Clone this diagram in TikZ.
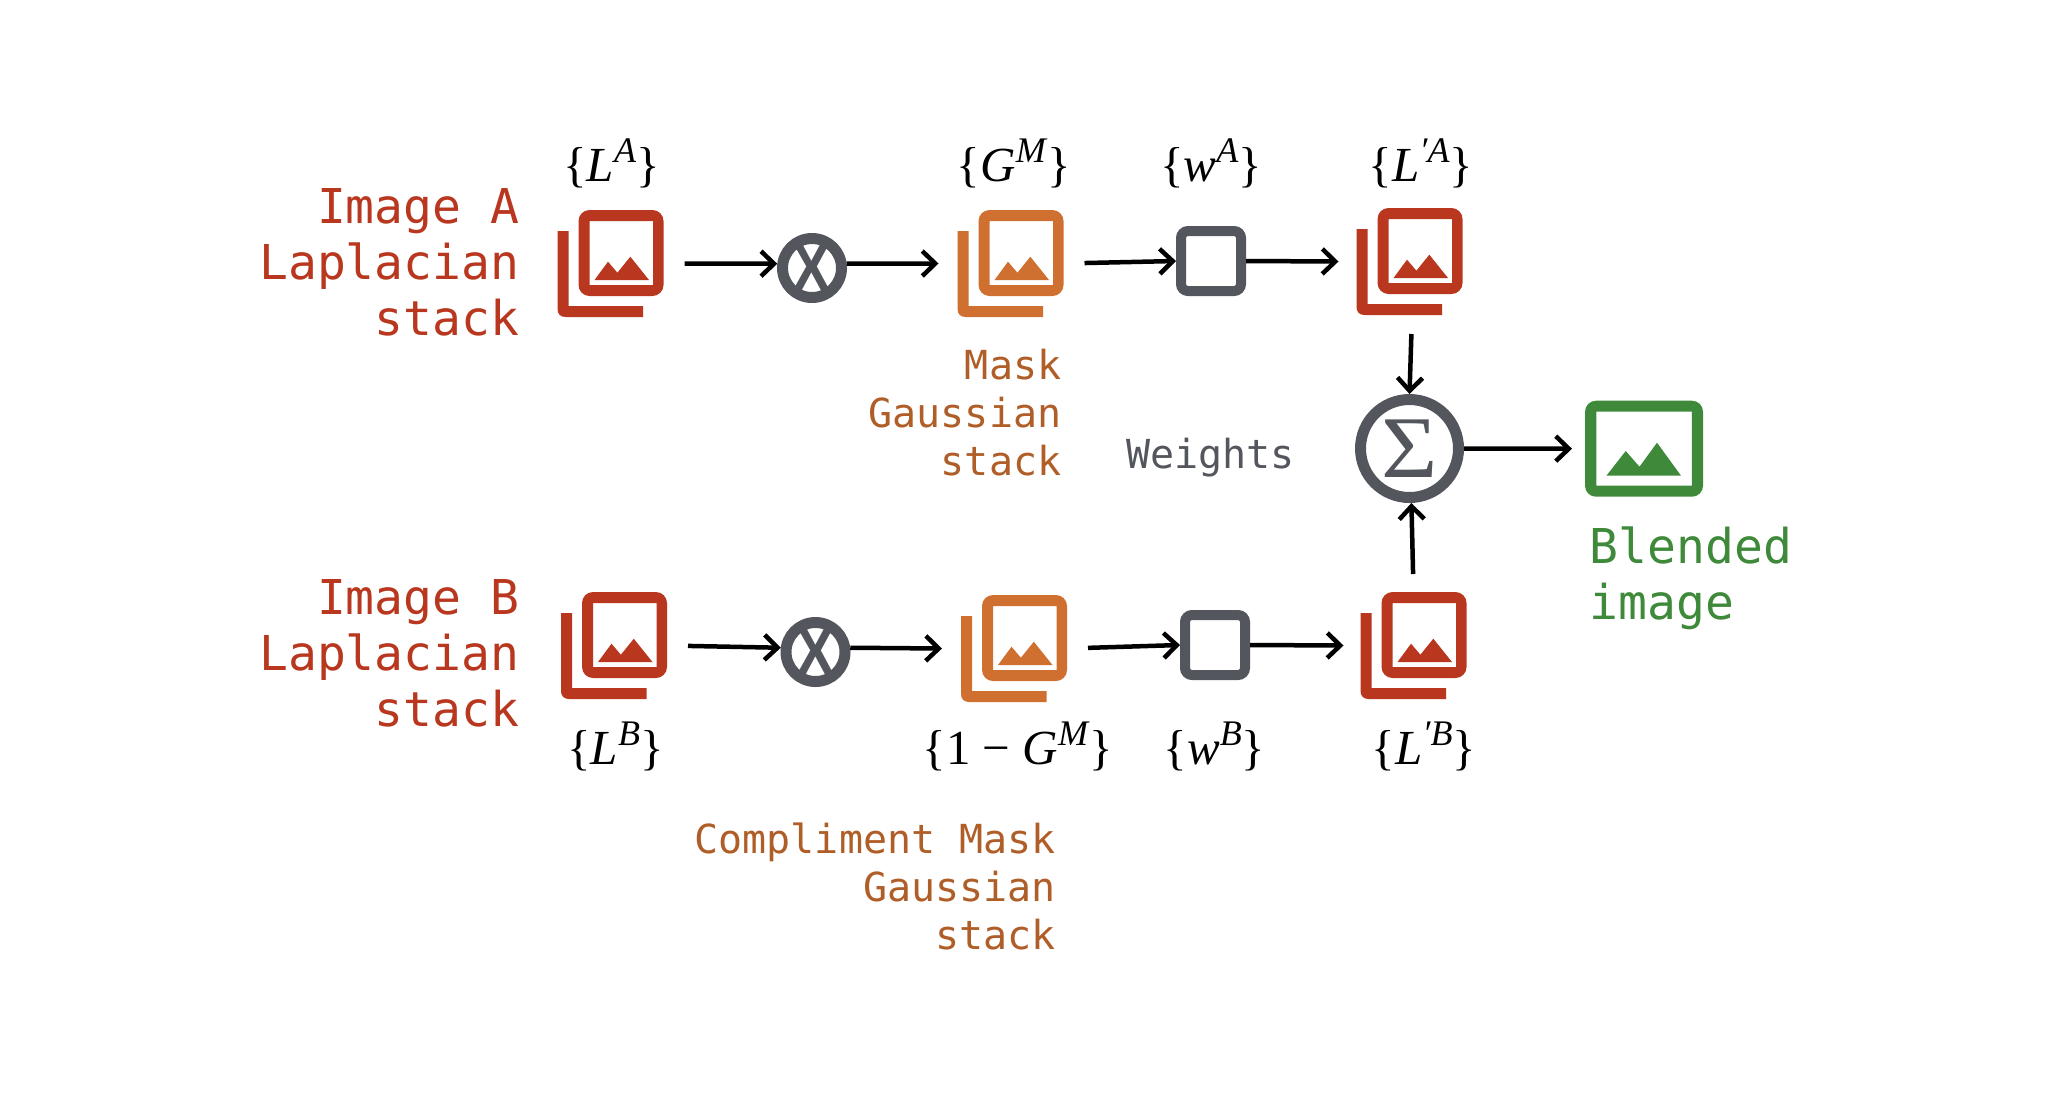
\documentclass[tikz,border=0pt]{standalone}
\usepackage{fontspec}
\setmainfont{Liberation Serif}
\setmonofont{DejaVu Sans Mono}
\newfontfamily\marksans{Liberation Sans}
\usetikzlibrary{arrows.meta}

\definecolor{stackred}{HTML}{B8371E}
\definecolor{stackorange}{HTML}{D07030}
\definecolor{opgray}{HTML}{53565D}
\definecolor{blendgreen}{HTML}{3E8A3A}
\definecolor{masktext}{HTML}{B05E28}

\newcommand{\stacklab}[2]{\{\textit{#1}\raisebox{19pt}{\fontsize{36}{36}\selectfont\textit{#2}}\}}

\tikzset{
  stackicon/.style={rectangle,inner sep=0pt,outer sep=0pt,minimum width=106pt,minimum height=107pt,
    path picture={
      \fill [#1] (-53,-32.5) -- (-42,-32.5) -- (-42,42.5) -- (32.5,42.5) -- (32.5,53.5) -- (-45,53.5) .. controls (-50,53.5) and (-53,50.5) .. (-53,45.5) -- cycle;
      \fill [#1,even odd rule,rounded corners=11pt] (-32,-53.5) rectangle (53,32.5) [sharp corners] (-21,-42.5) rectangle (42.5,21.5);
      \fill [#1] (-16,16.5) -- (-2.5,-1.8) -- (6.9,9.2) -- (19.8,-6.8) -- (38.5,16.5) -- cycle;
    }},
  imageicon/.style={rectangle,inner sep=0pt,outer sep=0pt,minimum width=118pt,minimum height=96pt,
    path picture={
      \fill [#1,even odd rule,rounded corners=11pt] (-59,-48) rectangle (59,48) [sharp corners] (-47.7,-37) rectangle (47.9,37);
      \fill [#1] (-37.6,27) -- (-18.3,2.3) -- (-4.5,18) -- (13,-6) -- (37,27) -- cycle;
    }},
  mulop/.style={circle,draw=opgray,line width=11pt,minimum size=59pt,inner sep=0pt,text=opgray,
    font=\fontsize{68}{68}\selectfont\marksans\bfseries},
  sumop/.style={circle,draw=opgray,line width=11pt,minimum size=98pt,inner sep=0pt,text=opgray,
    font=\fontsize{88}{88}\selectfont},
  weightop/.style={rectangle,draw=opgray,line width=10pt,rounded corners=7pt,minimum size=60pt,inner sep=0pt},
  flow/.style={black,line width=4.5pt,-{Straight Barb[length=13pt,width=25pt,line width=4.5pt]}},
  symlab/.style={anchor=base,inner sep=0pt,black,font=\fontsize{49}{49}\selectfont},
  bigcap/.style={inner sep=0pt,align=right,font=\fontsize{48}{56}\selectfont\ttfamily},
  smallcap/.style={inner sep=0pt,align=right,font=\fontsize{40}{48}\selectfont\ttfamily}
}
\newcommand{\mulmark}{\makebox[0pt]{\raisebox{-.34em}[0pt][0pt]{\scalebox{.85}[1]{X}}}}

\begin{document}
\begin{tikzpicture}[x=1pt,y=-1pt]
\useasboundingbox (0,0) rectangle (2052,1104);

\node [stackicon=stackred] (stackLA) at (610.5,263.5) {};
\node [stackicon=stackorange] (stackGM) at (1010.5,263.5) {};
\node [stackicon=stackred] (stackLAp) at (1409.5,261.5) {};
\node [stackicon=stackred] (stackLB) at (614,645.5) {};
\node [stackicon=stackorange] (stackGC) at (1014,648.5) {};
\node [stackicon=stackred] (stackLBp) at (1413.5,645.5) {};
\node [imageicon=blendgreen] (blended) at (1644,448.7) {};

\node [mulop] (mulA) at (812,268) {\mulmark};
\node [mulop] (mulB) at (815.5,652) {\mulmark};
\node [weightop] (wA) at (1211,261) {};
\node [weightop] (wB) at (1215,645) {};
\node [sumop] (sum) at (1409.5,448.5) {\scalebox{1.1}[1]{Σ}};

\node [symlab] (labLA) at (611.6,181) {\stacklab{L}{A}};
\node [symlab] (labGM) at (1014,181) {\stacklab{G}{M}};
\node [symlab] (labwA) at (1211,181) {\stacklab{w}{A}};
\node [symlab] (labLAp) at (1421,181) {\stacklab{L}{′A}};
\node [symlab] (labLB) at (615.5,764) {\stacklab{L}{B}};
\node [symlab] (labGC) at (1018,764) {\{1 − \textit{G}\raisebox{19pt}{\fontsize{36}{36}\selectfont\textit{M}}\}};
\node [symlab] (labwB) at (1214.6,764) {\stacklab{w}{B}};
\node [symlab] (labLBp) at (1424,764) {\stacklab{L}{′B}};

\node [bigcap,text=stackred,anchor=east] (capA) at (519.5,262.3) {Image A\\Laplacian\\stack};
\node [bigcap,text=stackred,anchor=east] (capB) at (519.5,653.3) {Image B\\Laplacian\\stack};
\node [smallcap,text=masktext,anchor=east] (capGM) at (1061.5,413) {Mask\\Gaussian\\stack};
\node [smallcap,text=masktext,anchor=east] (capGC) at (1056,886.5) {Compliment Mask\\Gaussian\\stack};
\node [smallcap,text=opgray,anchor=base west] (capW) at (1126,468) {Weights};
\node [bigcap,align=left,text=blendgreen,anchor=west] (capOut) at (1589.5,578) {Blended\\image};

\draw [flow,shorten <=21pt] (stackLA.east) -- (mulA.173);
\draw [flow] (mulA.7) -- ([xshift=-19pt]stackGM.west);
\draw [flow,shorten <=21pt] (stackGM.east) -- (wA.west);
\draw [flow] (wA.east) -- ([xshift=-18pt]stackLAp.west);
\draw [flow,shorten <=19pt] ([xshift=2.5pt]stackLAp.south) -- (sum.north);
\draw [flow] (sum.east) -- ([xshift=-13pt]blended.west);
\draw [flow,shorten <=18pt] (stackLBp.north) -- (sum.272);
\draw [flow,shorten <=21pt] (stackLB.east) -- (mulB.173);
\draw [flow] (mulB.7) -- ([xshift=-19pt]stackGC.west);
\draw [flow,shorten <=21pt] (stackGC.east) -- (wB.west);
\draw [flow] (wB.east) -- ([xshift=-17pt]stackLBp.west);
\end{tikzpicture}
\end{document}
